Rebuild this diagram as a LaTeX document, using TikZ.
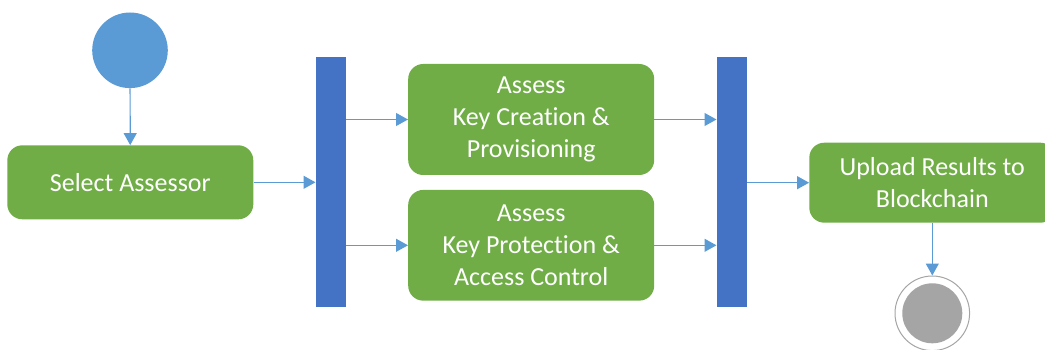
\documentclass[tikz,border=0pt]{standalone}
\usepackage{fontspec}
\setmainfont{Carlito}[Ligatures=CommonOff]
\usepackage{tikz}
\usetikzlibrary{shapes,arrows,arrows.meta}

\definecolor{startblue}{HTML}{5B9BD5}
\definecolor{actgreen}{HTML}{70AD47}
\definecolor{barblue}{HTML}{4472C4}
\definecolor{endgray}{HTML}{A5A5A5}

\begin{document}
\begin{tikzpicture}[x=1pt, y=-1pt,
    activity/.style={rectangle, rounded corners=15pt, fill=actgreen, text=white,
      inner sep=0pt, minimum width=246pt, align=center,
      font=\fontsize{26}{32}\selectfont},
    forkbar/.style={rectangle, fill=barblue, inner sep=0pt,
      minimum width=30pt, minimum height=250.6pt},
    flow/.style={draw=startblue, line width=1.2pt,
      -{Triangle[length=12pt,width=13pt]}}]
      % Sizes
      \pgfmathsetmacro{\startsize}{75.6}
      \pgfmathsetmacro{\ringsize}{74.6}
      \pgfmathsetmacro{\dotsize}{60}
      \useasboundingbox (0,0) rectangle (1045,350);

      % start and end
      \node[circle, fill=startblue, inner sep=0pt, minimum size=\startsize pt] (start) at (130, 50.3) {};
      \node[circle, draw=endgray, line width=1pt, fill=white, inner sep=0pt, minimum size=\ringsize pt] (end) at (932.3, 313.3) {};
      \node[circle, fill=endgray, inner sep=0pt, minimum size=\dotsize pt] (enddot) at (end) {};

      % activities
      \node[activity, minimum height=74pt] (select) at (130.3, 182.3) {Select Assessor};
      \node[activity, minimum height=111pt] (creation) at (531.2, 119.5) {Assess\\Key Creation \&\\Provisioning};
      \node[activity, minimum height=110.7pt] (protection) at (531.2, 245.3) {Assess\\Key Protection \&\\Access Control};
      \node[activity, minimum height=80pt] (upload) at (932.3, 182.7) {Upload Results to\\Blockchain};

      % fork and join
      \node[forkbar] (fork) at (330.7, 182) {};
      \node[forkbar] (join) at (731.7, 182) {};

      % draw diagram
      \draw[flow] (start) -- (select);
      \draw[flow] (select) -- (select -| fork.west);
      \draw[flow] (fork.east |- creation) -- (creation);
      \draw[flow] (fork.east |- protection) -- (protection);
      \draw[flow] (creation) -- (creation -| join.west);
      \draw[flow] (protection) -- (protection -| join.west);
      \draw[flow] (join.east |- upload) -- (upload);
      \draw[flow] (upload) -- (end);
\end{tikzpicture}
\end{document}
